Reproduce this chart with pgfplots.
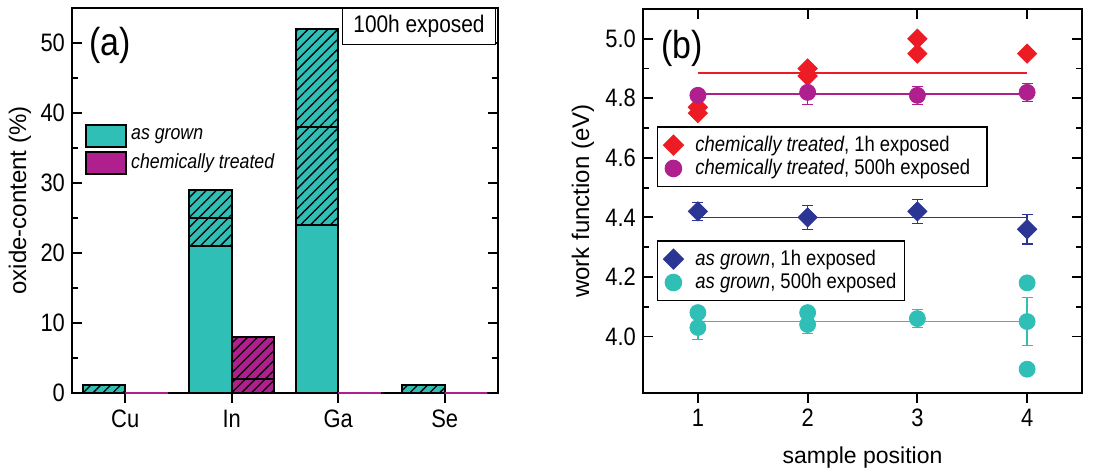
\documentclass[border=0pt]{standalone}
\usepackage{fontspec}
\setmainfont{Liberation Sans}[FakeStretch=0.87]
\newfontfamily\labfont{Liberation Sans}
\usepackage{pgfplots}
\pgfplotsset{compat=1.18}
\usetikzlibrary{patterns,patterns.meta}
\definecolor{cteal}{HTML}{2FBFB7}
\definecolor{cmag}{HTML}{B01F8E}
\definecolor{cred}{HTML}{ED1C24}
\definecolor{cnavy}{HTML}{2B3593}

\pgfplotsset{
  common/.style={
    scale only axis,
    axis line style={line width=1.1pt},
    every tick/.style={black, line width=0.9pt},
    major tick length=5pt, minor tick length=3pt,
    tick label style={font=\fontsize{12.6}{14}\selectfont},
    xlabel style={font=\labfont\fontsize{11.5}{13}\selectfont},
    ylabel style={font=\labfont\fontsize{12}{14}\selectfont},
    /pgf/number format/assume math mode=true,
  },
  hatch/.style={postaction={pattern color=black, pattern={Lines[angle=45,distance=3.5pt,line width=0.65pt]}}},
  barA/.style={ybar, bar width=0.4, bar shift=0pt, draw=black, line width=1pt, forget plot},
  errs/.style={error bars/y dir=both, error bars/y explicit,
    error bars/error bar style={line width=0.7pt},
    error bars/error mark options={rotate=90, line width=0.7pt, mark size=2.75pt}},
  legB/.style={legend style={draw=black, line width=0.8pt, at={(0.031,#1)}, anchor=north west,
    font=\fontsize{10.6}{12}\selectfont, row sep=-1.5pt, inner xsep=2pt, inner ysep=2.5pt},
    legend cell align=left,
    legend image code/.code={\path[draw=none] (0pt,0pt) -- (15pt,0pt); \draw[##1] plot coordinates {(6pt,0pt)};}},
}

\begin{document}
\begin{tikzpicture}
\useasboundingbox (0,0) rectangle (551pt,238pt);
% ---------------- panel (a)
\begin{axis}[common,
  at={(36pt,41.5pt)}, anchor=south west, width=213pt, height=192.5pt,
  xmin=0.5, xmax=4.5, ymin=0, ymax=55,
  xtick={1,2,3,4}, xticklabels={Cu,In,Ga,Se}, xtick pos=left,
  ytick={0,10,20,30,40,50}, minor ytick={5,15,25,35,45}, ytick pos=both,
  tick align=inside, x tick style={yshift=-5pt},
  xticklabel style={yshift=-5pt},
  ylabel={oxide-content (\%)},
  ylabel style={at={(axis description cs:-0.122,0.5)}, anchor=center},
  legend style={draw=none, fill=none, at={(0.03,0.70)}, anchor=north west,
    font=\fontsize{10.2}{11}\selectfont\itshape, row sep=1pt, inner sep=0pt},
  legend cell align=left,
  legend image code/.code={\draw[#1, line width=1pt] (0pt,-5.5pt) rectangle (20pt,5.5pt);},
]
% as grown (teal)
\addplot[barA, fill=cteal, hatch] coordinates {(0.8,1.2) (1.8,29) (2.8,52) (3.8,1.2)};
\addplot[barA, fill=cteal, hatch] coordinates {(1.8,25) (2.8,38)};
\addplot[barA, fill=cteal] coordinates {(1.8,21) (2.8,24)};
% chemically treated (magenta)
\addplot[barA, fill=cmag, hatch] coordinates {(2.2,8)};
\addplot[barA, fill=cmag, hatch] coordinates {(2.2,2)};
\addlegendimage{fill=cteal, draw=black}
\addlegendentry{as grown}
\addlegendimage{fill=cmag, draw=black}
\addlegendentry{chemically treated}
\node[draw, line width=0.5pt, fill=white, anchor=north east, minimum width=76.5pt, minimum height=18pt,
  font=\fontsize{12}{13}\selectfont] at (rel axis cs:1,1) [xshift=-1pt] {100h exposed};
\node[font=\fontsize{19.5}{21}\selectfont] at (rel axis cs:0.089,0.904) {(a)};
\end{axis}
% zero-height treated bars drawn on top of the axis line
\begin{axis}[scale only axis, hide axis, clip=false,
  at={(36pt,41.5pt)}, anchor=south west, width=213pt, height=192.5pt,
  xmin=0.5, xmax=4.5, ymin=0, ymax=55]
\addplot[barA, draw=cmag, line width=1.2pt] coordinates {(1.2,0) (3.2,0) (4.2,0)};
\end{axis}

% ---------------- panel (b): chemically treated
\begin{axis}[common, legB=0.695,
  at={(321.5pt,41.5pt)}, anchor=south west, width=219.5pt, height=192pt,
  xmin=0.5, xmax=4.5, ymin=3.81, ymax=5.1,
  xtick={1,2,3,4}, xtick pos=left,
  ytick={4.0,4.2,4.4,4.6,4.8,5.0}, minor y tick num=1, ytick pos=both,
  yticklabel style={/pgf/number format/.cd, fixed, fixed zerofill, precision=1},
  tick align=inside, x tick style={yshift=-5pt},
  xticklabel style={yshift=-4.5pt},
  xlabel={sample position}, ylabel={work function (eV)},
  ylabel style={at={(axis description cs:-0.137,0.5)}, anchor=center},
  xlabel style={at={(axis description cs:0.5,-0.169)}, anchor=center},
]
\addplot[cred, line width=0.7pt, forget plot] coordinates {(1,4.885) (4,4.885)};
\addplot[cmag, line width=0.7pt, forget plot] coordinates {(1,4.814) (4,4.814)};
\addplot[only marks, cred, mark=square*, mark size=3.4pt, mark options={rotate=45}, forget plot]
  coordinates {(1,4.77) (1,4.75) (2,4.90) (2,4.875) (3,5.00) (3,4.95) (4,4.95)};
\addplot[only marks, cmag, mark=*, mark size=4pt, forget plot, errs]
  coordinates {(1,4.81) +- (0,0.01) (2,4.82) +- (0,0.04) (3,4.81) +- (0,0.03) (4,4.82) +- (0,0.03)};
\addlegendimage{only marks, cred, mark=square*, mark size=3.4pt, mark options={rotate=45}}
\addlegendentry{\textit{chemically treated}, 1h exposed}
\addlegendimage{only marks, cmag, mark=*, mark size=4pt}
\addlegendentry{\textit{chemically treated}, 500h exposed\hspace*{4.5pt}}
\node[font=\fontsize{19.5}{21}\selectfont] at (rel axis cs:0.089,0.898) {(b)};
\end{axis}

% ---------------- panel (b): as grown (overlay, carries top ticks)
\begin{axis}[common, legB=0.398,
  at={(321.5pt,41.5pt)}, anchor=south west, width=219.5pt, height=192pt,
  xmin=0.5, xmax=4.5, ymin=3.81, ymax=5.1,
  xtick={1,2,3,4}, xticklabels={}, xtick pos=right, ytick=\empty,
  tick align=inside,
]
\addplot[cnavy, line width=0.7pt, forget plot] coordinates {(1,4.40) (4,4.40)};
\addplot[cteal, line width=0.7pt, forget plot] coordinates {(1,4.05) (4,4.05)};
\addplot[only marks, cnavy, mark=square*, mark size=3.4pt, mark options={rotate=45}, forget plot, errs]
  coordinates {(1,4.42) +- (0,0.03) (2,4.40) +- (0,0.04) (3,4.42) +- (0,0.04) (4,4.36) +- (0,0.05)};
\addplot[only marks, cteal, mark=*, mark size=4pt, forget plot]
  coordinates {(1,4.08) (2,4.08) (4,4.18) (4,3.89)};
\addplot[only marks, cteal, mark=*, mark size=4pt, forget plot, errs]
  coordinates {(1,4.03) +- (0,0.04) (2,4.04) +- (0,0.03) (3,4.06) +- (0,0.03) (4,4.05) +- (0,0.08)};
\addlegendimage{only marks, cnavy, mark=square*, mark size=3.4pt, mark options={rotate=45}}
\addlegendentry{\textit{as grown}, 1h exposed}
\addlegendimage{only marks, cteal, mark=*, mark size=4pt}
\addlegendentry{\textit{as grown}, 500h exposed}
\end{axis}
\end{tikzpicture}
\end{document}
